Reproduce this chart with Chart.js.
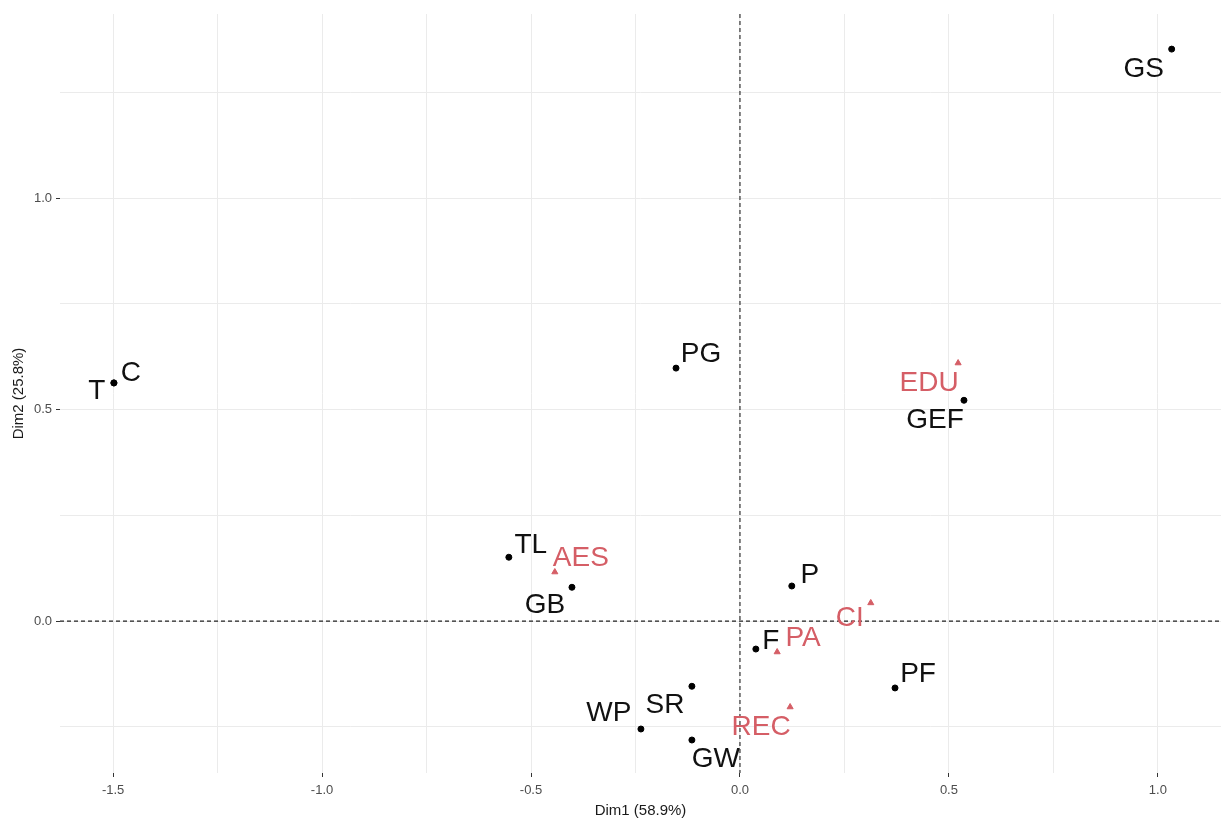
<!DOCTYPE html>
<html>
<head>
<meta charset="utf-8">
<script src="https://cdn.jsdelivr.net/npm/chart.js@4.4.0/dist/chart.umd.min.js"></script>
<style>
  html, body { margin: 0; padding: 0; background: #fff; overflow: hidden; }
  canvas { display: block; }
</style>
</head>
<body>
<canvas id="pca" width="1221" height="822"></canvas>
<script>
// individuals (black points)
const indNames = ['T', 'C', 'PG', 'GS', 'GEF', 'TL', 'GB', 'P', 'F', 'PF', 'SR', 'WP', 'GW'];
const indX = [-1.498, -1.498, -0.153, 1.033, 0.536, -0.553, -0.402, 0.124, 0.038, 0.371, -0.115, -0.237, -0.115];
const indY = [0.563, 0.563, 0.598, 1.352, 0.522, 0.151, 0.080, 0.083, -0.066, -0.158, -0.154, -0.255, -0.281];

// supplementary categories (red triangles)
const supNames = ['EDU', 'AES', 'CI', 'PA', 'REC'];
const supX = [0.522, -0.443, 0.313, 0.089, 0.120];
const supY = [0.610, 0.116, 0.043, -0.073, -0.203];

// label offsets from the point (px), like ggrepel placed them
const indOffsets = [[-17, 8], [17, -10], [25, -14], [-28, 20], [-29, 20], [22, -12], [-27, 18], [18, -11], [15, -8], [23, -14], [-27, 19], [-32, -16], [24, 19]];
const supOffsets = [[-29, 20], [26, -14], [-21, 15], [26, -14], [-29, 20]];

const xTitle = 'Dim1 (58.9%)';
const yTitle = 'Dim2 (25.8%)';

const RED = '#D55E66';
const GRID = '#ebebeb';

const toPts = (xs, ys) => xs.map((v, i) => ({ x: v, y: ys[i] }));

// dashed lines through the origin
const originLines = {
    id: 'originLines',
    beforeDatasetsDraw(chart) {
        const { ctx, chartArea: a, scales } = chart;
        const x0 = scales.x.getPixelForValue(0);
        const y0 = scales.y.getPixelForValue(0);
        ctx.save();
        ctx.strokeStyle = '#222';
        ctx.lineWidth = 1.1;
        ctx.setLineDash([4, 3]);
        ctx.beginPath();
        ctx.moveTo(a.left, y0); ctx.lineTo(a.right, y0);
        ctx.moveTo(x0, a.top); ctx.lineTo(x0, a.bottom);
        ctx.stroke();
        ctx.restore();
    }
};

// text labels next to the points
const pointLabels = {
    id: 'pointLabels',
    afterDatasetsDraw(chart) {
        const ctx = chart.ctx;
        ctx.save();
        ctx.font = '28px "Liberation Sans", Arial, sans-serif';
        ctx.textAlign = 'center';
        ctx.textBaseline = 'middle';
        chart.data.datasets.forEach((ds, di) => {
            const meta = chart.getDatasetMeta(di);
            meta.data.forEach((el, i) => {
                const off = ds.offsets[i];
                ctx.fillStyle = ds.labelColor;
                ctx.fillText(ds.names[i], el.x + off[0], el.y + off[1]);
            });
        });
        ctx.restore();
    }
};

const isMajor = (v) => Math.abs(v * 2 - Math.round(v * 2)) < 1e-6;

new Chart(document.getElementById('pca'), {
    type: 'scatter',
    data: {
        datasets: [
            {
                data: toPts(indX, indY),
                names: indNames,
                offsets: indOffsets,
                labelColor: '#111',
                backgroundColor: '#000',
                borderColor: '#000',
                pointRadius: 3,
                pointHoverRadius: 3
            },
            {
                data: toPts(supX, supY),
                names: supNames,
                offsets: supOffsets,
                labelColor: RED,
                backgroundColor: RED,
                borderColor: RED,
                pointStyle: 'triangle',
                pointRadius: 3.5,
                pointHoverRadius: 3.5
            }
        ]
    },
    options: {
        responsive: false,
        animation: false,
        layout: { autoPadding: false, padding: { top: 14, right: 0, left: 0, bottom: 0 } },
        plugins: { legend: { display: false }, tooltip: { enabled: false } },
        scales: {
            x: {
                type: 'linear',
                min: -1.627,
                max: 1.151,
                afterBuildTicks(scale) {
                    const t = [];
                    for (let v = -1.5; v <= 1.0001; v += 0.25) t.push({ value: Math.round(v * 100) / 100 });
                    scale.ticks = t;
                },
                afterFit(scale) {
                    scale.height = 49;
                    scale.paddingLeft = 0;
                    scale.paddingRight = 0;
                },
                border: { display: false },
                grid: {
                    color: GRID,
                    lineWidth: 1,
                    tickLength: 4,
                    tickColor: (c) => isMajor(c.tick.value) ? '#333' : 'rgba(0,0,0,0)'
                },
                ticks: {
                    color: '#4d4d4d',
                    padding: 6,
                    autoSkip: false,
                    maxRotation: 0,
                    font: { family: '"Liberation Sans", Arial, sans-serif', size: 13 },
                    callback: (v) => isMajor(v) ? v.toFixed(1) : ''
                },
                title: {
                    display: true,
                    text: xTitle,
                    color: '#1a1a1a',
                    padding: { top: 0, bottom: 2 },
                    font: { family: '"Liberation Sans", Arial, sans-serif', size: 15 }
                }
            },
            y: {
                type: 'linear',
                min: -0.359,
                max: 1.435,
                afterBuildTicks(scale) {
                    const t = [];
                    for (let v = -0.25; v <= 1.2501; v += 0.25) t.push({ value: Math.round(v * 100) / 100 });
                    scale.ticks = t;
                },
                afterFit(scale) {
                    scale.width = 60;
                    scale.paddingTop = 0;
                    scale.paddingBottom = 0;
                },
                border: { display: false },
                grid: {
                    color: GRID,
                    lineWidth: 1,
                    tickLength: 4,
                    tickColor: (c) => isMajor(c.tick.value) ? '#333' : 'rgba(0,0,0,0)'
                },
                ticks: {
                    color: '#4d4d4d',
                    padding: 4,
                    autoSkip: false,
                    font: { family: '"Liberation Sans", Arial, sans-serif', size: 13 },
                    callback: (v) => isMajor(v) ? v.toFixed(1) : ''
                },
                title: {
                    display: true,
                    text: yTitle,
                    color: '#1a1a1a',
                    padding: { top: 10, bottom: 0 },
                    font: { family: '"Liberation Sans", Arial, sans-serif', size: 15 }
                }
            }
        }
    },
    plugins: [originLines, pointLabels]
});
</script>
</body>
</html>
